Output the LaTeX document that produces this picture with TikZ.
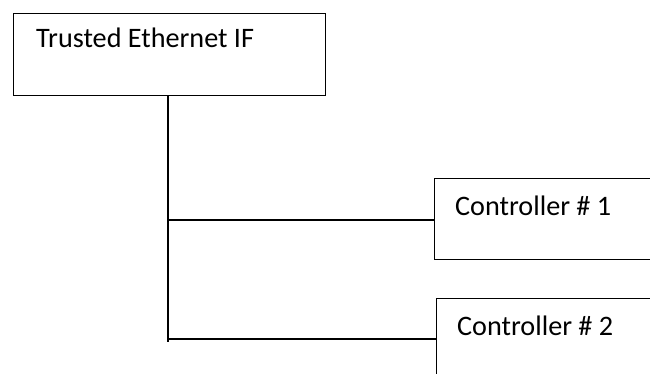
\documentclass[tikz,border=0pt]{standalone}
\usepackage{fontspec}
\setmainfont{Carlito}
\begin{document}
\begin{tikzpicture}[x=1pt,y=-1pt,
  box/.style={draw=black, line width=1.3pt, rectangle, inner sep=0pt, anchor=north west},
  lbl/.style={anchor=base west, inner sep=0pt, font=\fontsize{28.2}{33}\selectfont},
  wire/.style={draw=black, line width=1.3pt}]
\useasboundingbox (0,0) rectangle (650,374);
\clip (0,0) rectangle (650,374);
\node[box, minimum width=312pt, minimum height=82pt] (eth) at (13,13) {};
\node[lbl] (ethl) at (36,48) {Trusted Ethernet IF};
\node[box, minimum width=240pt, minimum height=81pt] (c1) at (434,178) {};
\node[lbl] (c1l) at (455,215) {Controller \# 1};
\node[box, minimum width=240pt, minimum height=82pt] (c2) at (436,298) {};
\node[lbl] (c2l) at (457,335) {Controller \# 2};
\coordinate (j1) at (168,220);
\coordinate (j2) at (168,339);
\coordinate (bot) at (168,342);
\draw[wire] (eth.south -| bot) -- (bot);
\draw[wire] (j1) -- (j1 -| c1.west);
\draw[wire] (j2) -- (j2 -| c2.west);
\end{tikzpicture}
\end{document}
